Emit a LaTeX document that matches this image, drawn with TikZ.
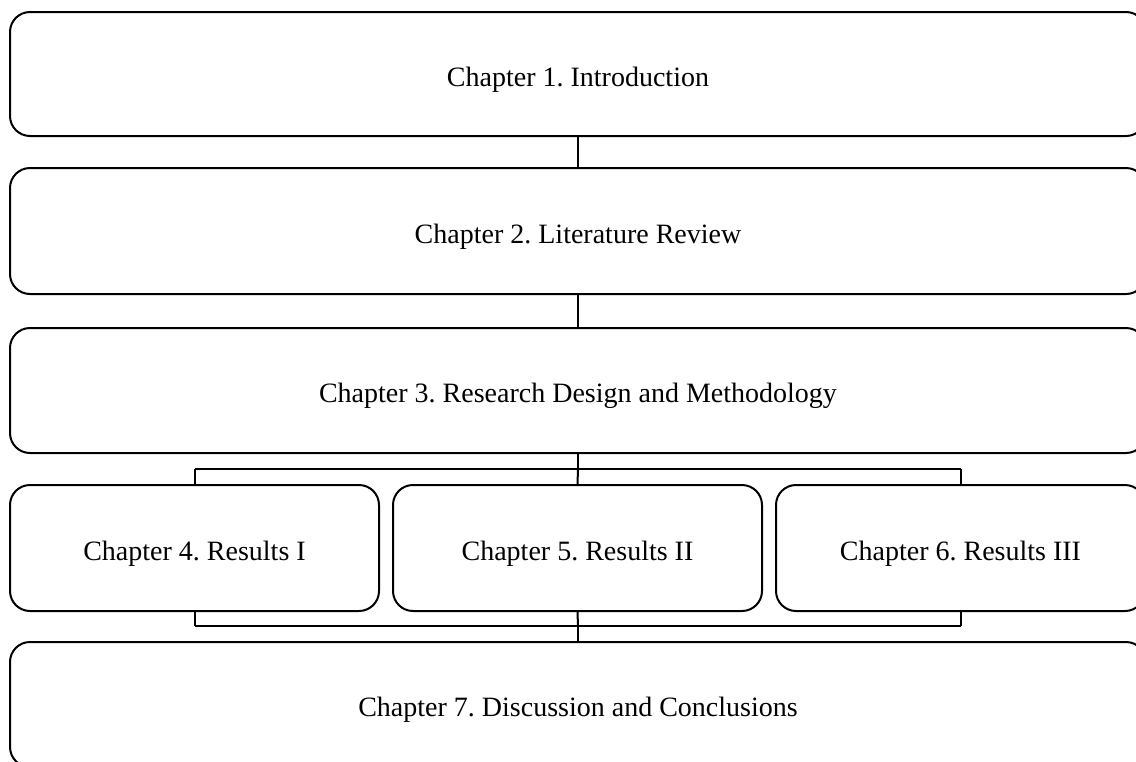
\documentclass[tikz,border=0pt]{standalone}
\usepackage{fontspec}
\setmainfont{Liberation Serif}
\frenchspacing
\begin{document}
\begin{tikzpicture}[x=1pt,y=-1pt,
  chapbox/.style={draw=black,line width=2pt,rounded corners=20pt,inner sep=0pt,
    font=\fontsize{28}{33}\selectfont,text height=24pt,text depth=0pt,anchor=center},
  conn/.style={draw=black,line width=2pt}]
\useasboundingbox (0,0) rectangle (1136,761);
\clip (0,0) rectangle (1136,761);
\node[chapbox,minimum width=1136pt,minimum height=124pt] (c1) at (578,74) {Chapter 1. Introduction};
\node[chapbox,minimum width=1136pt,minimum height=126pt] (c2) at (578,231) {Chapter 2. Literature Review};
\node[chapbox,minimum width=1136pt,minimum height=125pt] (c3) at (578,390.5) {Chapter 3. Research Design and Methodology};
\node[chapbox,minimum width=369pt,minimum height=126pt] (c4) at (194.5,548) {Chapter 4. Results I};
\node[chapbox,minimum width=369pt,minimum height=126pt] (c5) at (577.5,548) {Chapter 5. Results II};
\node[chapbox,minimum width=369pt,minimum height=126pt] (c6) at (960.5,548) {Chapter 6. Results III};
\node[chapbox,minimum width=1136pt,minimum height=125pt] (c7) at (578,704.5) {Chapter 7. Discussion and Conclusions};
\coordinate (t3) at (578,469);
\coordinate (tl) at (194.5,469);
\coordinate (tr) at (960.5,469);
\coordinate (b3) at (578,626);
\coordinate (bl) at (194.5,626);
\coordinate (br) at (960.5,626);
\draw[conn] (c1.south) -- (c2.north);
\draw[conn] (c2.south) -- (c3.north);
\draw[conn] (c3.south) -- (t3);
\draw[conn] (tl) -- (tr);
\draw[conn] (tl) -- (c4.north);
\draw[conn] (t3) -- (c5.north);
\draw[conn] (tr) -- (c6.north);
\draw[conn] (c4.south) -- (bl);
\draw[conn] (c5.south) -- (b3);
\draw[conn] (c6.south) -- (br);
\draw[conn] (bl) -- (br);
\draw[conn] (b3) -- (c7.north);
\end{tikzpicture}
\end{document}
